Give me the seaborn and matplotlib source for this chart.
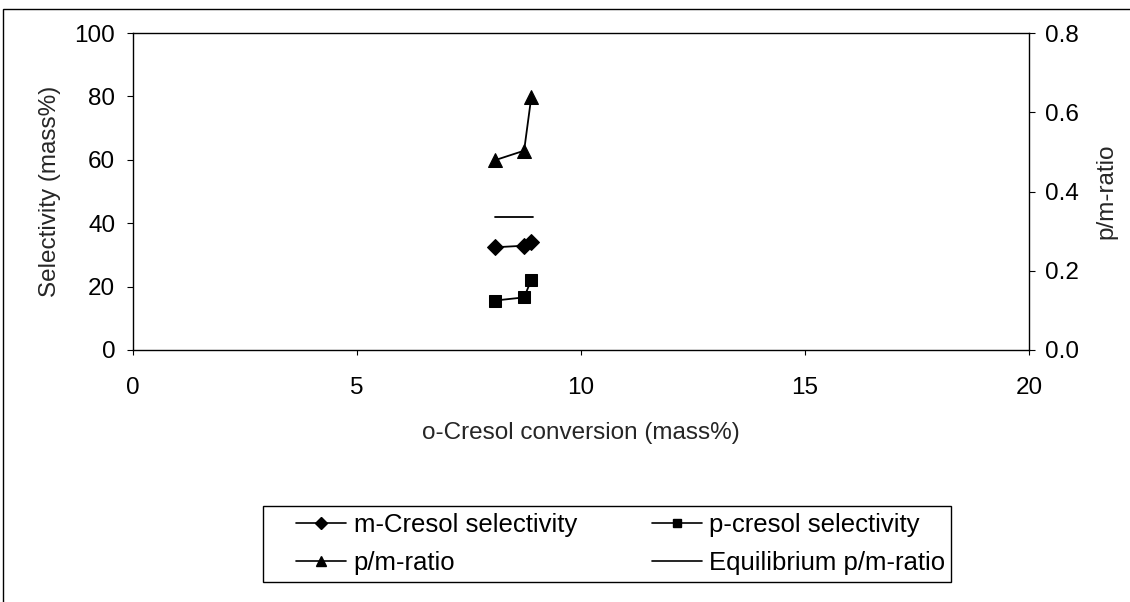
import matplotlib
matplotlib.use("Agg")
import matplotlib.pyplot as plt
import seaborn as sns
import pandas as pd
from matplotlib.lines import Line2D
from matplotlib.patches import Rectangle

conversion = [8.08, 8.73, 8.89]
m_cresol_sel = [32.4, 32.9, 34.2]
p_cresol_sel = [15.6, 16.6, 22.1]
pm_ratio = [0.479, 0.503, 0.638]
eq_x = [8.08, 8.92]
eq_ratio = [0.335, 0.335]

sns.set_style("white")
plt.rcParams['font.family'] = ['Liberation Sans', 'DejaVu Sans']
plt.rcParams['text.color'] = 'black'

FS = 17.5
fig = plt.figure(figsize=(11.3, 6.02), dpi=100)
ax = fig.add_axes([133 / 1130, 1 - 350 / 602, 896 / 1130, 317 / 602])
ax2 = ax.twinx()

df = pd.DataFrame({"x": conversion, "m": m_cresol_sel, "p": p_cresol_sel, "r": pm_ratio})
sns.lineplot(data=df, x="x", y="m", ax=ax, color="black", marker="D", markersize=8.5,
             linewidth=1.3, markeredgecolor="black", sort=False)
sns.lineplot(data=df, x="x", y="p", ax=ax, color="black", marker="s", markersize=8.3,
             linewidth=1.3, markeredgecolor="black", sort=False)
sns.lineplot(data=df, x="x", y="r", ax=ax2, color="black", marker="^", markersize=9.5,
             linewidth=1.3, markeredgecolor="black", sort=False)
sns.lineplot(x=eq_x, y=eq_ratio, ax=ax2, color="black", linewidth=1.3)

ax.set_xlim(0, 20)
ax.set_ylim(0, 100)
ax2.set_ylim(0, 0.8)
ax.set_xticks([0, 5, 10, 15, 20])
ax.set_yticks([0, 20, 40, 60, 80, 100])
ax2.set_yticks([0, 0.2, 0.4, 0.6, 0.8])
ax2.set_yticklabels(["0.0", "0.2", "0.4", "0.6", "0.8"])

for a in (ax, ax2):
    for s in a.spines.values():
        s.set_visible(False)
for s in ('left', 'bottom', 'top'):
    ax.spines[s].set_visible(True)
    ax.spines[s].set_color('black')
    ax.spines[s].set_linewidth(1.0)
ax2.spines['right'].set_visible(True)
ax2.spines['right'].set_color('black')
ax2.spines['right'].set_linewidth(1.0)

ax.tick_params(axis='x', direction='out', length=3.8, width=0.8, color='black',
               labelsize=FS, labelcolor='black', bottom=True, pad=16)
ax.tick_params(axis='y', direction='out', length=4.3, width=0.8, color='black',
               labelsize=FS, labelcolor='black', left=True, pad=8.5)
ax2.tick_params(axis='y', direction='out', length=4.3, width=0.8, color='black',
                labelsize=FS, labelcolor='black', right=True, pad=7)

ax.set_xlabel("o-Cresol conversion (mass%)", fontsize=FS, labelpad=16)
ax.set_ylabel("Selectivity (mass%)", fontsize=FS, labelpad=10)
ax2.set_ylabel("p/m-ratio", fontsize=FS, labelpad=12)

handles = [
    Line2D([], [], color='black', marker='D', markersize=6, linewidth=1.2),
    Line2D([], [], color='black', marker='^', markersize=7, linewidth=1.2),
    Line2D([], [], color='black', marker='s', markersize=6, linewidth=1.2),
    Line2D([], [], color='black', linewidth=1.2),
]
labels = ["m-Cresol selectivity", "p/m-ratio", "p-cresol selectivity", "Equilibrium p/m-ratio"]
leg = fig.legend(handles, labels, ncol=2, loc='upper left',
                 bbox_to_anchor=(296 / 1130, 1 - 513 / 602),
                 fontsize=18.5, frameon=False,
                 handlelength=1.95, handletextpad=0.3, columnspacing=2.9,
                 labelspacing=0.55, borderpad=0, borderaxespad=0)
for t in leg.get_texts():
    t.set_color('black')

fig.patches.append(Rectangle((263 / 1130, 1 - 582 / 602), 688 / 1130, 76 / 602,
                             transform=fig.transFigure, fill=False,
                             edgecolor='black', linewidth=1.0))
fig.patches.append(Rectangle((3 / 1130, -0.01), 1.2, 1.01 - 9 / 602,
                             transform=fig.transFigure, fill=False,
                             edgecolor='black', linewidth=1.0))

fig.savefig("out.png", dpi=100)
